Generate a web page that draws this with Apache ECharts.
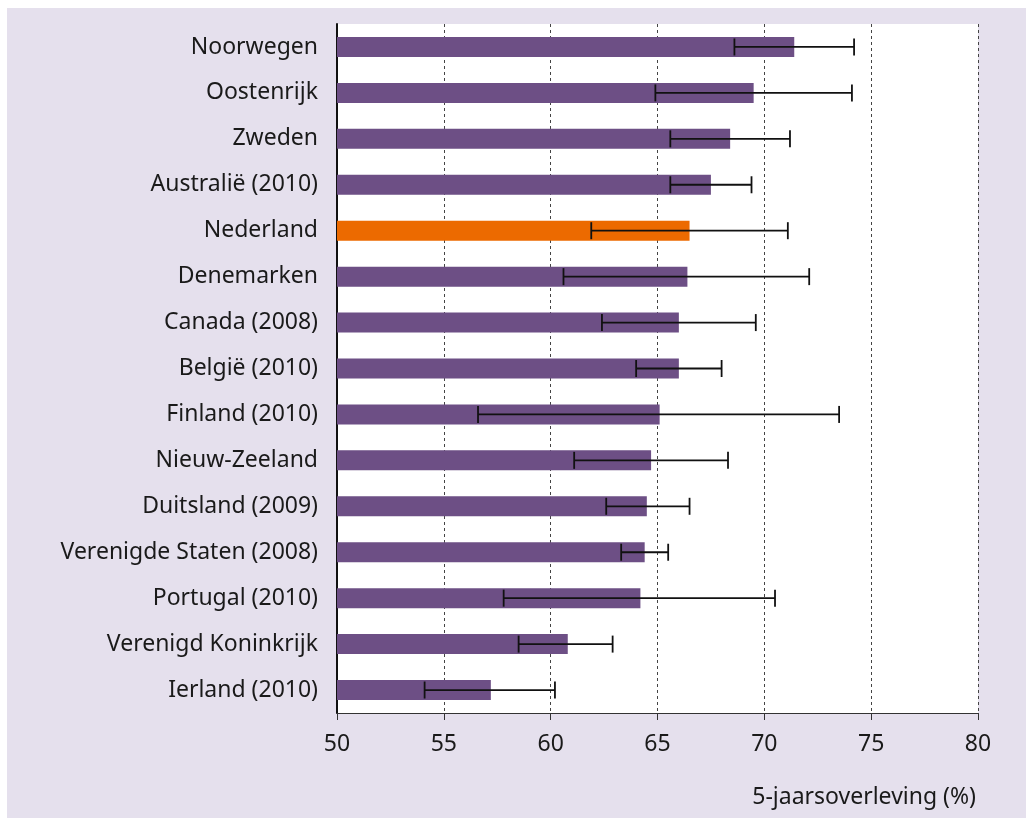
<!DOCTYPE html>
<html>
<head>
<meta charset="utf-8">
<script src="https://cdn.jsdelivr.net/npm/echarts@6/dist/echarts.min.js"></script>
<style>
  html, body { margin: 0; padding: 0; background: #ffffff; }
  #chart { width: 1026px; height: 818px; }
</style>
</head>
<body>
<div id="chart"></div>
<script>
// Countries, top to bottom
const countries = [
  'Noorwegen', 'Oostenrijk', 'Zweden', 'Australië (2010)', 'Nederland',
  'Denemarken', 'Canada (2008)', 'België (2010)', 'Finland (2010)',
  'Nieuw-Zeeland', 'Duitsland (2009)', 'Verenigde Staten (2008)',
  'Portugal (2010)', 'Verenigd Koninkrijk', 'Ierland (2010)'
];
// 5-year survival (%) and its confidence interval
const survival = [71.4, 69.5, 68.4, 67.5, 66.5, 66.4, 66.0, 66.0, 65.1, 64.7, 64.5, 64.4, 64.2, 60.8, 57.2];
const ciLow    = [68.6, 64.9, 65.6, 65.6, 61.9, 60.6, 62.4, 64.0, 56.6, 61.1, 62.6, 63.3, 57.8, 58.5, 54.1];
const ciHigh   = [74.2, 74.1, 71.2, 69.4, 71.1, 72.1, 69.6, 68.0, 73.5, 68.3, 66.5, 65.5, 70.5, 62.9, 60.2];
const xTicks = [50, 55, 60, 65, 70, 75, 80];
const highlight = 'Nederland';

const PURPLE = '#6d4f85';
const ORANGE = '#ec6a00';
const TEXT = '#1a1a1a';
const FONT = '"Noto Sans", "Open Sans", sans-serif';
const FONT_SIZE = 23;

const chart = echarts.init(document.getElementById('chart'), null, { renderer: 'canvas' });

const barData = survival.map((v, i) => ({
  value: v,
  itemStyle: { color: countries[i] === highlight ? ORANGE : PURPLE }
}));
const errData = countries.map((c, i) => [i, ciLow[i], ciHigh[i]]);

chart.setOption({
  backgroundColor: '#ffffff',
  animation: false,
  textStyle: { fontFamily: FONT },
  graphic: [{
    type: 'rect',
    z: -10,
    silent: true,
    shape: { x: 7, y: 8, width: 1019, height: 810 },
    style: { fill: '#e5e0ed' }
  }],
  title: {
    text: '5-jaarsoverleving (%)',
    right: 45,
    top: 781,
    textStyle: { fontFamily: FONT, fontSize: FONT_SIZE, fontWeight: 'normal', color: TEXT }
  },
  grid: {
    left: 337, right: 48, top: 24, bottom: 105,
    show: true, backgroundColor: '#ffffff', borderWidth: 0
  },
  xAxis: {
    type: 'value',
    min: xTicks[0],
    max: xTicks[xTicks.length - 1],
    interval: 5,
    axisLine: { show: true, lineStyle: { color: '#333', width: 1 } },
    axisTick: { show: true, length: 7, lineStyle: { color: '#333', width: 1 } },
    axisLabel: { margin: 20, fontSize: FONT_SIZE, color: TEXT, fontFamily: FONT },
    splitLine: { show: true, lineStyle: { color: '#444', width: 1, type: [3, 3] } }
  },
  yAxis: {
    type: 'category',
    inverse: true,
    data: countries,
    axisLine: { show: true, lineStyle: { color: '#111', width: 2 } },
    axisTick: { show: false },
    axisLabel: { margin: 19, fontSize: FONT_SIZE, color: TEXT, fontFamily: FONT }
  },
  series: [
    {
      type: 'bar',
      data: barData,
      barWidth: 20,
      z: 2
    },
    {
      type: 'custom',
      data: errData,
      z: 3,
      encode: { x: [1, 2], y: 0 },
      renderItem: function (params, api) {
        const idx = api.value(0);
        const lo = api.coord([api.value(1), idx]);
        const hi = api.coord([api.value(2), idx]);
        const h = 8.5;
        const style = { stroke: '#111', lineWidth: 1.8 };
        return {
          type: 'group',
          children: [
            { type: 'line', shape: { x1: lo[0], y1: lo[1], x2: hi[0], y2: hi[1] }, style: style },
            { type: 'line', shape: { x1: lo[0], y1: lo[1] - h, x2: lo[0], y2: lo[1] + h }, style: style },
            { type: 'line', shape: { x1: hi[0], y1: hi[1] - h, x2: hi[0], y2: hi[1] + h }, style: style }
          ]
        };
      }
    }
  ]
});
</script>
</body>
</html>
